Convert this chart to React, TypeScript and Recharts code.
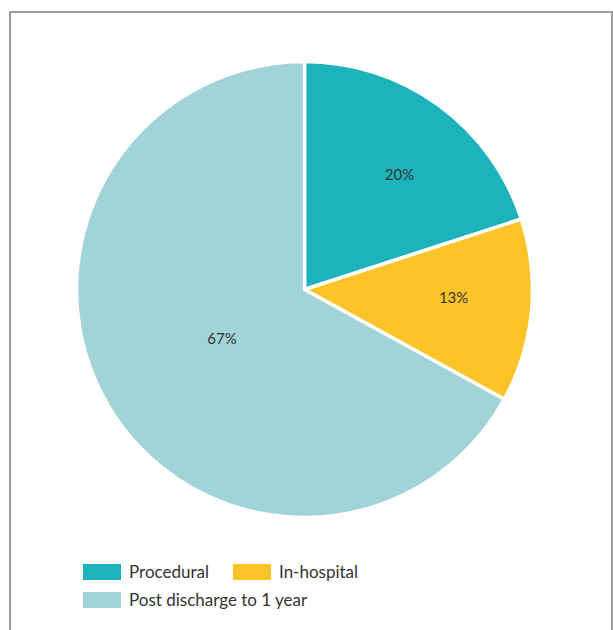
import { PieChart, Pie, Cell, Legend } from 'recharts';

const categories = ['Procedural', 'In-hospital', 'Post discharge to 1 year'];
const shares = [20, 13, 67];
const colors = ['#1db3bd', '#fdc42a', '#a2d3d8'];

const data = categories.map((name, i) => ({ name, value: shares[i] }));

const RADIAN = Math.PI / 180;
const FONT = 'Lato, "Noto Sans", sans-serif';

function renderLabel(props: any) {
  const { cx, cy, midAngle, outerRadius, value, index } = props;
  // labels are not exactly on the bisector in the original
  const r = index === 2 ? outerRadius * 0.42 : outerRadius * 0.655;
  const nudge = index === 0 ? -3.5 : index === 1 ? 2.5 : 0;
  const angle = midAngle + nudge;
  const x = cx + r * Math.cos(-angle * RADIAN);
  const y = cy + r * Math.sin(-angle * RADIAN);
  return (
    <text
      x={x}
      y={y}
      fill="#333"
      fontSize={15}
      fontFamily={FONT}
      textAnchor="middle"
      dominantBaseline="central"
    >
      {`${value}%`}
    </text>
  );
}

function LegendContent() {
  const item = (i: number) => (
    <div key={i} style={{ display: 'flex', alignItems: 'center', height: 16 }}>
      <div style={{ width: 38, height: 16, backgroundColor: colors[i], marginRight: 8 }} />
      <span style={{ fontSize: 17, color: '#333', fontFamily: FONT, lineHeight: '16px' }}>
        {categories[i]}
      </span>
    </div>
  );
  return (
    <div style={{ display: 'flex', flexDirection: 'column', gap: 12 }}>
      <div style={{ display: 'flex', gap: 0 }}>
        <div style={{ width: 150 }}>{item(0)}</div>
        {item(1)}
      </div>
      {item(2)}
    </div>
  );
}

export default function App() {
  return (
    <div style={{ position: 'absolute', left: 0, top: 0, width: 613, height: 630, overflow: 'hidden', background: '#fff' }}>
      <div
        style={{
          position: 'absolute',
          left: 9,
          top: 11,
          width: 604,
          height: 640,
          border: '2px solid #9c9c9c',
          boxSizing: 'border-box',
        }}
      />
      <div style={{ position: 'absolute', left: 0, top: 0 }}>
        <PieChart width={613} height={630} margin={{ top: 0, right: 0, bottom: 0, left: 0 }}>
          <Pie
            data={data}
            dataKey="value"
            nameKey="name"
            cx={304.5}
            cy={289.5}
            outerRadius={228}
            startAngle={90}
            endAngle={-270}
            stroke="#fff"
            strokeWidth={3.5}
            label={renderLabel}
            labelLine={false}
            isAnimationActive={false}
          >
            {data.map((entry, index) => (
              <Cell key={`cell-${index}`} fill={colors[index]} />
            ))}
          </Pie>
          <Legend
            content={<LegendContent />}
            wrapperStyle={{ position: 'absolute', left: 83, top: 564, width: 400 }}
          />
        </PieChart>
      </div>
    </div>
  );
}
